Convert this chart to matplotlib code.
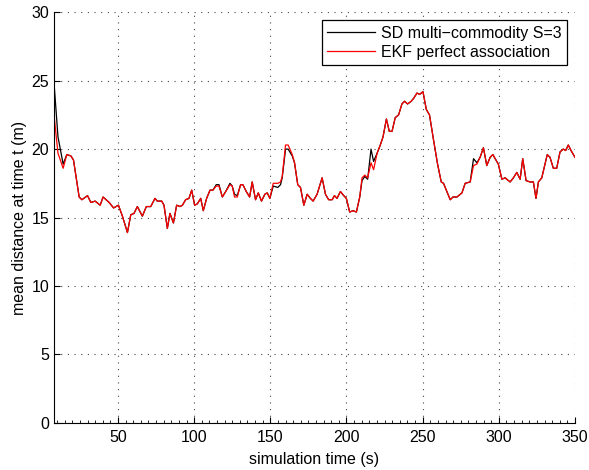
import matplotlib
matplotlib.use("Agg")
import matplotlib.pyplot as plt
from matplotlib.ticker import MultipleLocator

# simulation time (s)
t = [8.1, 10.6, 14.0, 16.4, 19.1, 20.8, 24.5, 26.3, 30.0, 32.2, 35.0, 38.3, 40.2,
     44.2, 47.1, 50.3, 52.9, 56.2, 58.4, 60.5, 62.7, 66.0, 68.6, 71.5, 74.3, 75.8,
     78.7, 80.2, 82.4, 84.1, 86.4, 88.5, 90.7, 92.3, 94.4, 96.6, 98.4, 100.3, 102.1,
     104.3, 106.0, 108.2, 110.4, 112.3, 114.5, 116.3, 118.5, 120.7, 123.5, 125.0,
     126.5, 128.3, 130.5, 132.0, 134.2, 136.4, 138.1, 140.3, 142.1, 144.2, 146.4,
     148.0, 149.7, 151.9, 154.9, 156.7, 157.8, 160.0, 161.7, 164.4, 165.9, 168.0,
     169.8, 172.0, 174.2, 176.3, 178.1, 180.7, 184.0, 186.2, 188.3, 190.6, 192.1,
     193.8, 196.0, 198.2, 199.9, 202.1, 204.3, 206.5, 208.7, 210.2, 212.0, 213.9,
     216.1, 217.8, 220.1, 222.2, 224.0, 226.2, 228.1, 229.9, 232.0, 234.2, 236.4,
     238.1, 240.1, 242.5, 244.0, 246.3, 248.0, 250.2, 252.4, 254.5, 257.1, 259.8,
     262.2, 263.7, 265.9, 268.1, 269.9, 272.5, 275.8, 277.9, 281.2, 283.4, 285.6,
     287.7, 289.9, 292.1, 294.3, 296.1, 297.6, 299.7, 302.0, 304.1, 307.4, 309.6,
     311.8, 314.0, 315.7, 317.9, 320.5, 322.7, 324.4, 326.0, 328.2, 331.8, 333.6,
     335.8, 338.0, 340.2, 342.3, 343.9, 345.6, 347.4, 350.0]

# SD multi-commodity S=3
sd = [24.7, 20.9, 18.9, 19.6, 19.5, 19.2, 16.5, 16.3, 16.6, 16.1, 16.2, 15.9, 16.5,
      16.1, 15.7, 15.9, 15.1, 13.9, 15.2, 15.3, 15.8, 15.1, 15.8, 15.8, 16.4, 16.2,
      16.2, 15.9, 14.2, 15.3, 14.6, 15.9, 15.8, 15.9, 16.3, 16.4, 17.0, 15.9, 16.0,
      16.4, 15.5, 16.4, 17.0, 17.0, 17.4, 17.4, 16.5, 16.9, 17.5, 17.3, 16.7, 16.6,
      17.4, 17.4, 16.9, 16.5, 17.6, 16.3, 16.8, 16.2, 16.7, 16.8, 16.4, 17.3, 17.2,
      17.4, 17.9, 20.0, 20.0, 19.5, 19.0, 17.4, 17.2, 15.9, 16.7, 16.4, 16.2, 16.7,
      17.9, 16.7, 16.3, 16.3, 16.6, 16.4, 16.9, 16.6, 16.4, 15.4, 15.5, 15.4, 16.5,
      17.7, 18.0, 17.8, 20.0, 19.1, 19.7, 20.3, 20.9, 22.2, 21.3, 21.3, 22.3, 22.5,
      23.3, 23.5, 23.3, 23.5, 23.7, 24.1, 24.0, 24.2, 22.9, 22.5, 20.7, 18.9, 17.6,
      17.5, 16.9, 16.3, 16.5, 16.5, 16.8, 17.5, 17.6, 19.3, 19.0, 19.4, 20.1, 18.8,
      19.4, 19.6, 19.3, 18.9, 17.8, 17.9, 17.6, 17.9, 18.3, 17.8, 19.3, 17.7, 17.6,
      17.6, 16.4, 17.6, 17.9, 19.6, 19.4, 18.6, 18.6, 19.8, 20.0, 19.9, 20.3, 19.9,
      19.4]

# EKF perfect association
ekf = [22.4, 19.7, 18.6, 19.6, 19.5, 19.2, 16.5, 16.3, 16.6, 16.1, 16.2, 15.9, 16.5,
       16.1, 15.7, 15.9, 15.1, 13.9, 15.2, 15.3, 15.8, 15.1, 15.8, 15.8, 16.4, 16.2,
       16.2, 15.9, 14.2, 15.3, 14.6, 15.9, 15.8, 15.9, 16.3, 16.4, 17.0, 15.9, 16.0,
       16.4, 15.5, 16.4, 17.0, 17.0, 17.3, 17.3, 16.5, 16.9, 17.4, 17.3, 16.5, 16.5,
       17.4, 17.4, 16.9, 16.5, 17.6, 16.3, 16.8, 16.2, 16.7, 16.8, 16.4, 17.5, 17.5,
       17.6, 18.0, 20.3, 20.3, 19.6, 19.0, 17.4, 17.2, 15.9, 16.7, 16.4, 16.2, 16.7,
       17.9, 16.7, 16.3, 16.3, 16.6, 16.4, 16.9, 16.6, 16.4, 15.4, 15.5, 15.4, 16.5,
       17.9, 18.1, 17.9, 19.0, 18.5, 19.7, 20.3, 20.9, 22.2, 21.3, 21.3, 22.3, 22.5,
       23.3, 23.5, 23.3, 23.5, 23.7, 24.1, 24.0, 24.2, 22.9, 22.5, 20.7, 18.9, 17.6,
       17.5, 16.9, 16.3, 16.5, 16.5, 16.8, 17.5, 17.6, 18.8, 18.9, 19.4, 20.1, 18.8,
       19.4, 19.6, 19.3, 18.9, 17.8, 17.9, 17.6, 17.9, 18.3, 17.8, 19.3, 17.7, 17.6,
       17.6, 16.4, 17.6, 17.9, 19.6, 19.4, 18.6, 18.6, 19.8, 20.0, 19.9, 20.3, 19.9,
       19.4]

plt.rcParams["font.family"] = ["Liberation Sans", "DejaVu Sans"]
plt.rcParams["font.size"] = 11.5

fig = plt.figure(figsize=(5.89, 4.70), dpi=100)
ax = fig.add_axes([0.0917, 0.1006, 0.8845, 0.8732])

ax.plot(t, sd, color="black", linewidth=0.9, label="SD multi\u2212commodity S=3")
ax.plot(t, ekf, color="red", linewidth=0.9, label="EKF perfect association")

ax.set_xlim(8, 350)
ax.set_ylim(0, 30)
ax.set_xticks([50, 100, 150, 200, 250, 300, 350])
ax.set_yticks([0, 5, 10, 15, 20, 25, 30])
ax.xaxis.set_minor_locator(MultipleLocator(5))
ax.tick_params(direction="in", length=4, width=0.8, colors="black")
ax.tick_params(axis="x", which="major", pad=5)
ax.tick_params(axis="x", which="minor", direction="in", length=2, width=0.6)
ax.tick_params(axis="y", which="minor", left=False)

for side in ("top", "right"):
    ax.spines[side].set_visible(False)
for side in ("left", "bottom"):
    ax.spines[side].set_linewidth(0.8)

ax.grid(True, which="major", color="#444444", linestyle=(0, (1, 5)), linewidth=0.8)

ax.set_xlabel("simulation time (s)", labelpad=5)
ax.set_ylabel("mean distance at time t (m)", labelpad=3)

leg = ax.legend(loc="upper right", bbox_to_anchor=(0.985, 0.981), borderaxespad=0,
                fancybox=False, framealpha=1, edgecolor="black", handlelength=3.0,
                handletextpad=0.37, labelspacing=0.25, borderpad=0.35)
leg.get_frame().set_linewidth(0.9)

fig.savefig("out.png", dpi=100)
